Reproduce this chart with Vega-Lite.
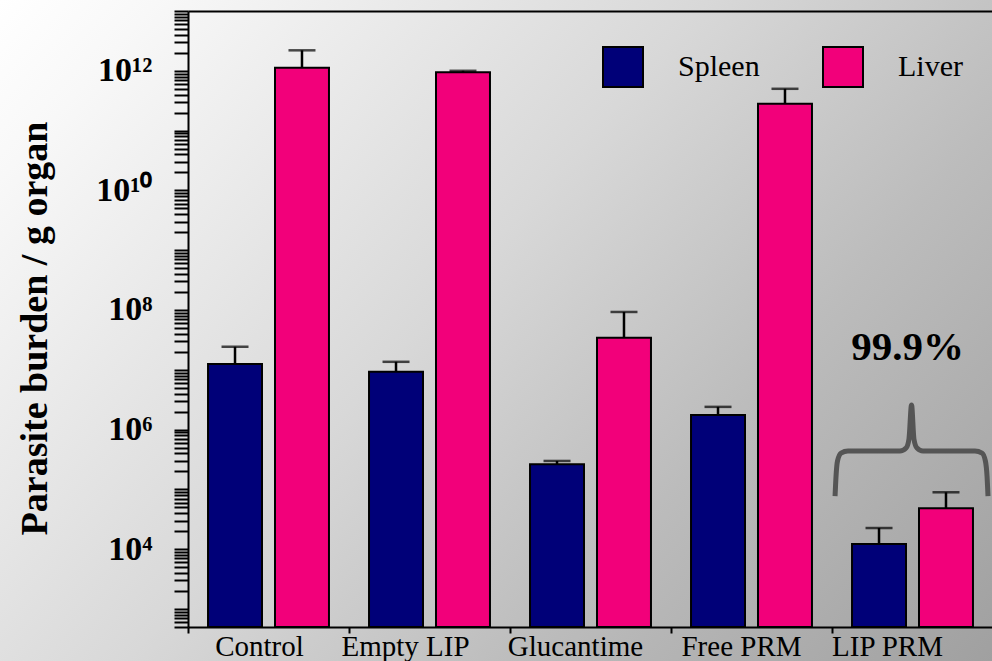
{
  "$schema": "https://vega.github.io/schema/vega-lite/v6.json",
  "width": 992,
  "height": 661,
  "autosize": {"type": "none"},
  "padding": 0,
  "background": "#d8d8d8",
  "config": {"font": "Liberation Serif", "view": {"stroke": null}},
  "view": {
    "stroke": null,
    "fill": {
      "gradient": "linear",
      "x1": 0, "y1": 0, "x2": 1.181, "y2": 0.691,
      "stops": [
        {"offset": 0, "color": "#ffffff"},
        {"offset": 0.1, "color": "#f8f8f8"},
        {"offset": 0.45, "color": "#d8d8d8"},
        {"offset": 0.7, "color": "#bcbcbc"},
        {"offset": 1, "color": "#a0a0a0"}
      ]
    }
  },
  "datasets": {
    "bars": [
      {"group": "Control", "organ": "Spleen", "value": 1.25e7, "err": 2.43e7},
      {"group": "Control", "organ": "Liver", "value": 1.12e12, "err": 2.2e12},
      {"group": "Empty LIP", "organ": "Spleen", "value": 9.3e6, "err": 1.36e7},
      {"group": "Empty LIP", "organ": "Liver", "value": 9.5e11, "err": 1.0e12},
      {"group": "Glucantime", "organ": "Spleen", "value": 2.63e5, "err": 2.99e5},
      {"group": "Glucantime", "organ": "Liver", "value": 3.44e7, "err": 9.27e7},
      {"group": "Free PRM", "organ": "Spleen", "value": 1.75e6, "err": 2.4e6},
      {"group": "Free PRM", "organ": "Liver", "value": 2.8e11, "err": 5.0e11},
      {"group": "LIP PRM", "organ": "Spleen", "value": 1.22e4, "err": 2.26e4},
      {"group": "LIP PRM", "organ": "Liver", "value": 4.83e4, "err": 8.95e4}
    ],
    "brace": [
      {"u": 4.019, "v": 7.69e4},
      {"u": 4.025, "v": 1.66e5},
      {"u": 4.034, "v": 2.97e5},
      {"u": 4.056, "v": 4.05e5},
      {"u": 4.099, "v": 4.37e5},
      {"u": 4.422, "v": 4.37e5},
      {"u": 4.46, "v": 4.91e5},
      {"u": 4.478, "v": 6.95e5},
      {"u": 4.494, "v": 2.59e6},
      {"u": 4.509, "v": 6.95e5},
      {"u": 4.528, "v": 4.91e5},
      {"u": 4.565, "v": 4.37e5},
      {"u": 4.888, "v": 4.37e5},
      {"u": 4.932, "v": 4.05e5},
      {"u": 4.953, "v": 2.97e5},
      {"u": 4.963, "v": 1.66e5},
      {"u": 4.969, "v": 7.69e4}
    ],
    "note": [
      {"u": 4.47, "v": 2.32e7, "label": "99.9%"}
    ]
  },
  "layer": [
    {
      "data": {"name": "bars"},
      "layer": [
        {
          "mark": {"type": "bar", "stroke": "black", "strokeWidth": 2},
          "encoding": {
            "x": {
              "field": "group", "type": "nominal", "sort": null,
              "scale": {"domain": ["Control", "Empty LIP", "Glucantime", "Free PRM", "LIP PRM"], "range": [188, 993], "paddingInner": 0, "paddingOuter": 0},
              "axis": {
                "orient": "bottom", "offset": -34, "bandPosition": 0,
                "domainColor": "black", "domainWidth": 2,
                "tickColor": "black", "tickWidth": 2, "tickSize": 6,
                "labelPadding": 22, "labelBaseline": "alphabetic",
                "labelOffset": {"expr": "datum.value==='Control'?-9:datum.value==='Empty LIP'?-24:datum.value==='Glucantime'?-15:datum.value==='Free PRM'?-10:-25"},
                "labelFont": "Liberation Serif", "labelFontSize": 29, "labelColor": "black", "labelAngle": 0, "labelLimit": 0,
                "title": null, "grid": false,
                "encode": {
                  "ticks": {"update": {"y": {"value": -14}}}
                }
              }
            },
            "xOffset": {"field": "organ", "type": "nominal", "sort": null, "scale": {"domain": ["Spleen", "Liver"], "paddingInner": 0.194, "paddingOuter": 0.299}},
            "y": {
              "field": "value", "type": "quantitative",
              "scale": {"type": "log", "domain": [500, 1e13], "range": [627, 11]},
              "axis": {
                "orient": "left", "offset": -188,
                "values": [500, 600, 700, 800, 900,
                  1e3, 2e3, 3e3, 4e3, 5e3, 6e3, 7e3, 8e3, 9e3,
                  1e4, 2e4, 3e4, 4e4, 5e4, 6e4, 7e4, 8e4, 9e4,
                  1e5, 2e5, 3e5, 4e5, 5e5, 6e5, 7e5, 8e5, 9e5,
                  1e6, 2e6, 3e6, 4e6, 5e6, 6e6, 7e6, 8e6, 9e6,
                  1e7, 2e7, 3e7, 4e7, 5e7, 6e7, 7e7, 8e7, 9e7,
                  1e8, 2e8, 3e8, 4e8, 5e8, 6e8, 7e8, 8e8, 9e8,
                  1e9, 2e9, 3e9, 4e9, 5e9, 6e9, 7e9, 8e9, 9e9,
                  1e10, 2e10, 3e10, 4e10, 5e10, 6e10, 7e10, 8e10, 9e10,
                  1e11, 2e11, 3e11, 4e11, 5e11, 6e11, 7e11, 8e11, 9e11,
                  1e12, 2e12, 3e12, 4e12, 5e12, 6e12, 7e12, 8e12, 9e12, 1e13],
                "domainColor": "black", "domainWidth": 2,
                "tickColor": "black", "tickWidth": 2, "tickSize": 14,
                "labelPadding": 22, "labelFont": "Liberation Serif", "labelFontWeight": "bold", "labelFontSize": 34, "labelColor": "black",
                "labelOverlap": false, "labelBound": false, "labelFlush": false,
                "labelExpr": "datum.value==1e12?'10¹²':datum.value==1e10?'10¹⁰':datum.value==1e8?'10⁸':datum.value==1e6?'10⁶':datum.value==1e4?'10⁴':''",
                "grid": false,
                "title": "Parasite burden / g organ",
                "titleFont": "Liberation Serif", "titleFontSize": 38, "titleFontWeight": "bold", "titleColor": "black",
                "titleX": -153, "titleY": 328, "titleAngle": -90, "titleAlign": "center", "titleBaseline": "middle",
                "encode": {
                  "ticks": {"update": {
                    "x": {"signal": "indexof([1e4,1e6,1e8,1e10,1e12], datum.value) >= 0 ? 14 : 9"},
                    "x2": {"signal": "indexof([1e4,1e6,1e8,1e10,1e12], datum.value) >= 0 ? -14 : -9"}
                  }}
                }
              }
            },
            "y2": {"datum": 500},
            "color": {
              "field": "organ", "type": "nominal", "sort": null,
              "scale": {"domain": ["Spleen", "Liver"], "range": ["#000078", "#f2007a"]},
              "legend": {
                "orient": "none", "legendX": 602, "legendY": 46, "direction": "horizontal",
                "title": null, "symbolType": "square", "symbolSize": 1600,
                "symbolStrokeColor": "black", "symbolStrokeWidth": 2, "symbolOpacity": 1,
                "labelFont": "Liberation Serif", "labelFontSize": 30, "labelColor": "black",
                "labelOffset": 34, "columnPadding": 59, "padding": 0, "labelLimit": 0
              }
            }
          }
        },
        {
          "mark": {"type": "rule", "color": "black", "strokeWidth": 2.5},
          "encoding": {
            "x": {"field": "group", "type": "nominal", "sort": null},
            "xOffset": {"field": "organ", "type": "nominal", "sort": null},
            "y": {"field": "value", "type": "quantitative", "scale": {"type": "log", "domain": [500, 1e13], "range": [627, 11]}},
            "y2": {"field": "err"}
          }
        },
        {
          "mark": {"type": "tick", "color": "black", "thickness": 2.5, "size": 27, "orient": "horizontal"},
          "encoding": {
            "x": {"field": "group", "type": "nominal", "sort": null},
            "xOffset": {"field": "organ", "type": "nominal", "sort": null},
            "y": {"field": "err", "type": "quantitative", "scale": {"type": "log", "domain": [500, 1e13], "range": [627, 11]}}
          }
        }
      ]
    },
    {
      "layer": [
        {
          "data": {"name": "brace"},
          "mark": {"type": "line", "color": "#555555", "strokeWidth": 5, "interpolate": "monotone"},
          "encoding": {
            "x": {
              "field": "u", "type": "quantitative",
              "scale": {"domain": [0, 5], "range": [188, 993], "zero": false, "nice": false},
              "axis": {"orient": "top", "offset": -11, "ticks": false, "labels": false, "grid": false, "title": null, "domainColor": "black", "domainWidth": 2}
            },
            "y": {"field": "v", "type": "quantitative", "scale": {"type": "log", "domain": [500, 1e13], "range": [627, 11]}}
          }
        },
        {
          "data": {"name": "note"},
          "mark": {"type": "text", "font": "Liberation Serif", "fontSize": 41, "fontWeight": "bold", "color": "black", "baseline": "middle", "align": "center"},
          "encoding": {
            "x": {"field": "u", "type": "quantitative"},
            "y": {"field": "v", "type": "quantitative", "scale": {"type": "log", "domain": [500, 1e13], "range": [627, 11]}},
            "text": {"field": "label"}
          }
        }
      ]
    }
  ],
  "resolve": {"scale": {"x": "independent"}}
}
